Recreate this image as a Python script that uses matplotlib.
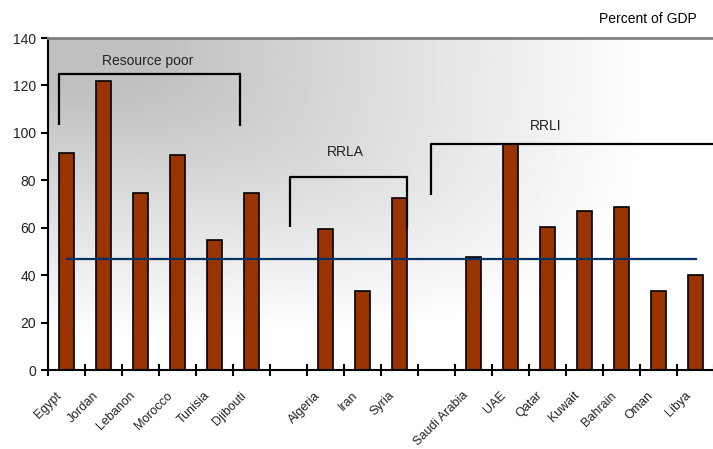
import numpy as np
import matplotlib.pyplot as plt
from matplotlib.transforms import ScaledTranslation

plt.rcParams['font.family'] = ['Liberation Sans', 'DejaVu Sans']

# debt by country, percent of GDP (blank slots separate the groups)
countries = ["Egypt", "Jordan", "Lebanon", "Morocco", "Tunisia", "Djibouti", "",
             "Algeria", "Iran", "Syria", "",
             "Saudi Arabia", "UAE", "Qatar", "Kuwait", "Bahrain", "Oman", "Libya"]
debt = [91.5, 121.8, 74.6, 90.5, 55.0, 74.6, np.nan,
        59.3, 33.3, 72.7, np.nan,
        47.5, 95.4, 60.2, 66.9, 68.6, 33.3, 40.0]
average = 46.8

# group brackets: (label, left, right, top, left foot, right foot, label x, label y)
groups = [
    ("Resource poor", -0.2, 4.7, 124.7, 103.3, 103.3, 2.2, 130.3),
    ("RRLA", 6.05, 9.2, 81.5, 60.2, 60.2, 7.53, 92),
    ("RRLI", 9.85, 18.2, 95.2, 73.8, None, 12.96, 103),
]

fig = plt.figure(figsize=(7.13, 4.49), dpi=100)
ax = fig.add_axes([48 / 713, 79 / 449, 666 / 713, 332 / 449])

x = np.arange(len(countries))
ax.set_xlim(-0.5, len(countries) - 0.5)
ax.set_ylim(0, 140)

# grey-to-white shading from the upper-left corner
gx, gy = np.meshgrid(np.linspace(0, 1, 300), np.linspace(0, 1, 200))
dist = (gx ** 4 + gy ** 4) ** 0.25
shade = np.clip((dist - 0.15) / 0.75, 0, 1)
ax.imshow(0.75 + 0.25 * shade, cmap='gray', vmin=0, vmax=1, aspect='auto',
          extent=(-0.5, len(countries) - 0.5, 0, 140), origin='upper', zorder=0,
          interpolation='bilinear')

ax.bar(x, debt, width=0.38, color='#993300', edgecolor='black', linewidth=1.2, zorder=2)
ax.plot([x[0], x[-1]], [average, average], color='#003366', linewidth=1.6, zorder=3)

for label, left, right, top, foot_l, foot_r, tx, ty in groups:
    ax.plot([left, left, right], [foot_l, top, top], color='black', lw=1.6,
            zorder=4, solid_capstyle='butt')
    if foot_r is not None:
        ax.plot([right, right], [top, foot_r], color='black', lw=1.6, zorder=4)
    ax.text(tx, ty, label, ha='center', va='center', fontsize=10, color='#222222')

ax.spines['right'].set_visible(False)
ax.spines['top'].set_color('#808080')
ax.spines['top'].set_linewidth(2)
ax.spines['left'].set_linewidth(1.5)
ax.spines['bottom'].set_linewidth(1.5)

ax.set_yticks(range(0, 141, 20))
ax.tick_params(axis='y', direction='out', length=5, width=1.5, labelsize=10, labelcolor='#222222')
ax.set_xticks(np.arange(-0.5, len(countries), 1.0))
ax.tick_params(axis='x', which='major', direction='inout', length=8, width=1.5, labelbottom=False)
ax.set_xticks(x, minor=True)
ax.set_xticklabels(countries, minor=True, rotation=45, ha='right', rotation_mode='anchor',
                   fontsize=9, color='#222222')
ax.tick_params(axis='x', which='minor', length=0, pad=14)
shift = ScaledTranslation(-11 / 100, 0, fig.dpi_scale_trans)
for lbl in ax.get_xticklabels(minor=True):
    lbl.set_transform(lbl.get_transform() + shift)

fig.text(697 / 713, 1 - 19 / 449, "Percent of GDP", ha='right', va='center', fontsize=10)

fig.savefig("out.png", dpi=100)
